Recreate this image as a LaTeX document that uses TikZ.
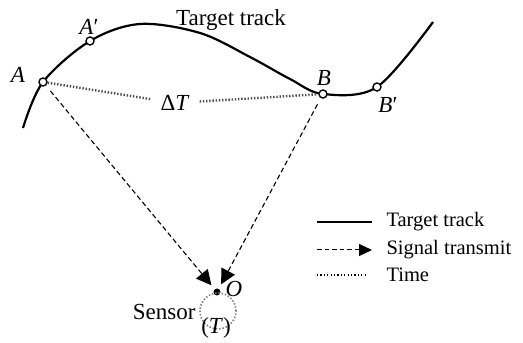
\documentclass[tikz,border=0pt]{standalone}
\usepackage{fontspec}
\setmainfont{Liberation Serif}
\usetikzlibrary{arrows.meta}
\begin{document}
\begin{tikzpicture}[x=1pt,y=1pt,
  track/.style={line width=2.2pt},
  pnt/.style={circle,draw,fill=white,line width=1.4pt,inner sep=0pt,minimum size=8pt},
  sig/.style={line width=1.1pt,dash pattern=on 5pt off 3pt,-{Triangle[length=15pt,width=15pt]}},
  tim/.style={line width=2.4pt,dash pattern=on 1.4pt off 1.8pt,gray!60!black},
  lbl/.style={font=\fontsize{23}{26}\selectfont},
  leg/.style={font=\fontsize{20.5}{24}\selectfont,anchor=west}]
\useasboundingbox (0,0) rectangle (523,343);
% target track
\draw[track] plot[smooth,tension=0.55] coordinates {(23,215) (43,261) (90,302) (140,319) (200,310) (250,286) (290,264) (323,249) (377,256) (433,321)};
\node[pnt] (A) at (43,261) {};
\node[pnt] (A1) at (90,302) {};
\node[pnt] (B) at (323,249) {};
\node[pnt] (B1) at (377,256) {};
\node[lbl] at (18,268) {\textit{A}};
\node[lbl] at (89,316) {\textit{A}′};
\node[lbl] at (324,265) {\textit{B}};
\node[lbl] at (388,238) {\textit{B}′};
\node[lbl] at (231,323) {Target track};
% time between A and B
\node[lbl,inner xsep=10pt,inner ysep=2pt] (dt) at (175,240) {Δ\textit{T}};
\draw[tim] (A) -- (dt);
\draw[tim] (dt) -- (B);
% sensor
\node[circle,fill=black,inner sep=0pt,minimum size=7pt] (O) at (217,51) {};
\node[lbl,right=0pt] at (222,54) {\textit{O}};
\draw[gray,line width=1.6pt,dash pattern=on 1.5pt off 1.8pt] (218,32) circle (18);
\node[lbl,anchor=east] at (199,31) {Sensor};
\node[lbl] at (216,15) {(\textit{T})};
\draw[sig,shorten <=7pt,shorten >=5pt] (A) -- (O);
\draw[sig,shorten <=7pt,shorten >=5pt] (B) -- (O);
% legend
\draw[line width=1.6pt] (317,121) -- (372,121);
\node[leg] at (383,121) {Target track};
\draw[sig,line width=1pt,dash pattern=on 4.5pt off 3pt,-{Triangle[length=13pt,width=12pt]}] (317,93) -- (372,93);
\node[leg] at (383,93) {Signal transmit};
\draw[line width=1.6pt,dash pattern=on 1.2pt off 2.2pt] (317,68) -- (366,68);
\node[leg] at (383,68) {Time};
\end{tikzpicture}
\end{document}
